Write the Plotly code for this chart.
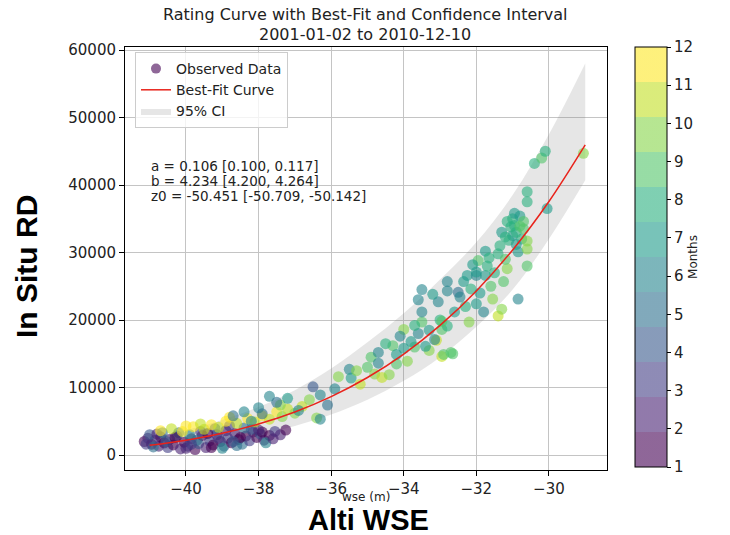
import plotly.graph_objects as go

# ---------------- data ----------------
# Observed data: water surface elevation (m), in-situ discharge, month (1-12)
obs_wse = [
    -41.15, -41.05, -40.95, -40.85, -40.75, -40.7, -40.6, -40.5, -40.45, -40.35,
    -40.25, -40.15, -40.05, -39.95, -39.85, -39.75, -39.65, -39.55, -39.45, -39.35,
    -39.25, -39.15, -39.05, -38.95, -38.85, -38.75, -38.65, -38.55, -38.45, -38.35,
    -38.25, -38.15, -38.05, -37.95, -37.85, -37.7, -37.55, -37.4, -37.25, -41.0,
    -40.2, -39.6, -39.2, -38.8, -38.4, -40.9, -39.9, -39.0, -38.6, -37.8,
    -41.1, -40.8, -40.55, -40.3, -40.0, -39.7, -39.4, -39.1, -38.9, -38.5,
    -38.2, -37.9, -37.6, -40.65, -39.85, -39.3, -38.7, -38.0,
    -40.7, -40.4, -40.1, -39.8, -39.5, -39.3, -39.1, -38.9, -38.6, -38.3,
    -38.1, -37.9, -37.7, -37.5, -37.35, -37.2, -37.0, -36.8, -36.6, -36.4,
    -40.0, -39.6, -38.8, -37.4,
    -38.7, -38.4, -38.0, -37.7, -37.5, -37.2, -36.9, -36.5, -36.3, -36.1,
    -35.9, -35.5, -35.45, -36.3, -37.9, -38.2,
    -35.8, -35.2, -35.0, -34.8, -34.6, -34.4, -34.2, -34.0, -33.9, -33.7,
    -33.5, -33.3, -33.1, -32.95, -32.7, -32.95, -34.9, -35.3, -34.3,
    -34.7, -34.7, -34.2, -34.1, -33.8, -33.6, -33.5, -33.3, -33.15, -33.4,
    -33.05, -33.0, -32.8, -34.5, -33.5, -33.2, -33.6, -34.0, -33.7,
    -32.8, -32.8, -32.5, -32.45, -32.35, -32.25, -32.15, -32.0, -32.0, -32.0,
    -31.95, -31.8, -31.75, -31.75, -31.7, -31.6, -31.55, -31.4, -31.4, -31.3,
    -31.3, -31.25, -31.15, -31.1, -31.0, -31.0, -30.95, -30.9, -30.85, -30.85,
    -30.8, -30.75, -30.7, -30.6, -30.6, -30.6, -30.6, -30.6, -30.4, -30.2,
    -30.1, -30.05, -29.05, -32.6, -32.2, -32.95, -32.65, -32.9, -31.5, -31.2,
    -32.3, -31.9, -31.05, -30.9, -31.15, -30.8, -31.2, -30.95, -31.35, -32.1,
    -31.65, -30.7,
]
obs_rd = [
    2000, 2500, 1600, 2200, 1300, 2700, 1800, 1100, 2300, 1500,
    2800, 900, 1900, 1300, 2400, 800, 1700, 2900, 1100, 2100,
    1500, 3000, 2000, 1300, 2500, 1800, 3200, 2300, 1600, 2800,
    2100, 3400, 2600, 3100, 2200, 2900, 3500, 3000, 3700, 3000,
    3300, 3500, 3900, 4300, 4000, 1200, 3000, 1000, 1400, 1800,
    1600, 3100, 2000, 2600, 1000, 2200, 3200, 2500, 3600, 2600,
    3800, 3400, 2400, 3300, 1600, 1100, 2000, 3700,
    3600, 3900, 3500, 4200, 3800, 4500, 4100, 5000, 4700, 5400,
    4900, 5800, 5300, 6400, 5700, 6800, 6200, 7200, 8200, 5500,
    4300, 4600, 5600, 7400,
    5800, 6400, 7000, 8700, 7800, 8400, 6600, 10100, 8900, 7400,
    9800, 12700, 11400, 5300, 6100, 5000,
    11600, 10500, 13000, 12000, 11500, 11900, 13500, 18600, 13900, 16000,
    19700, 15500, 17000, 14600, 15200, 18600, 14500, 12500, 16200,
    15200, 13600, 14900, 17600, 16800, 18000, 21200, 18500, 17100, 16100,
    22700, 20000, 19100, 16500, 24500, 23800, 23000, 15800, 19200,
    25700, 24300, 24100, 23400, 25700, 26600, 24600, 26600, 27100, 22400,
    28800, 21200, 30200, 26600, 28000, 25000, 23100, 29800, 20600, 33000,
    21600, 25700, 27600, 31800, 35000, 32500, 34000, 33000, 30100, 23100,
    35400, 32000, 33500, 31700, 30500, 28000, 37500, 39000, 43200, 44000,
    45000, 36500, 44700, 21200, 19700, 19800, 15000, 14900, 27000, 29000,
    22000, 24000, 33800, 31200, 34600, 33900, 32300, 35800, 31000, 28200,
    29200, 34600,
]
obs_month = [
    1, 2, 1, 3, 2, 1, 1, 3, 2, 1,
    4, 2, 1, 3, 2, 1, 4, 1, 2, 3,
    1, 2, 1, 4, 3, 1, 2, 1, 5, 1,
    3, 2, 1, 4, 2, 1, 3, 2, 1, 4,
    5, 3, 4, 3, 5, 5, 6, 6, 5, 6,
    3, 2, 4, 1, 2, 5, 1, 3, 2, 1,
    4, 1, 2, 5, 3, 1, 4, 2,
    12, 11, 12, 12, 11, 12, 11, 12, 11, 12,
    11, 12, 11, 12, 10, 11, 10, 11, 10, 10,
    12, 11, 12, 10,
    5, 6, 6, 6, 5, 7, 6, 4, 6, 5,
    6, 6, 7, 6, 5, 6,
    10, 11, 9, 10, 11, 10, 9, 10, 10, 9,
    9, 10, 11, 11, 9, 9, 9, 10, 9,
    6, 6, 7, 6, 7, 6, 6, 7, 6, 7,
    6, 8, 8, 8, 6, 7, 6, 7, 8,
    6, 6, 5, 6, 7, 7, 8, 6, 7, 7,
    9, 6, 7, 7, 8, 9, 10, 8, 11, 7,
    10, 9, 10, 8, 8, 7, 8, 8, 7, 6,
    7, 8, 9, 10, 10, 9, 8, 8, 8, 9,
    8, 7, 10, 7, 10, 9, 9, 9, 8, 9,
    8, 7, 8, 7, 8, 9, 8, 7, 8, 7,
    8, 9,
]

# Best-fit curve
fit_wse = [-41, -40, -39, -38, -37, -36, -35, -34, -33, -32, -31, -30, -29]
fit_rd = [1430, 2190, 3220, 4590, 6380, 8650, 11480, 14960, 19200, 24300, 30380, 37560, 45950]

# 95% confidence band
ci_upper = [2600, 3700, 5200, 7100, 9600, 12800, 16700, 21000, 26000, 31500, 38500, 47500, 58000]
ci_lower = [700, 1200, 2000, 3000, 4300, 6000, 8200, 11000, 14500, 19000, 24500, 32000, 40700]

param_lines = [
    "a = 0.106 [0.100, 0.117]",
    "b = 4.234 [4.200, 4.264]",
    "z0 = -50.451 [-50.709, -50.142]",
]
title_lines = ["Rating Curve with Best-Fit and Confidence Interval", "2001-01-02 to 2010-12-10"]
x_ticks = [-40, -38, -36, -34, -32, -30]
y_ticks = [0, 10000, 20000, 30000, 40000, 50000, 60000]
month_ticks = list(range(1, 13))

# ---------------- style ----------------
viridis12 = [
    (68, 1, 84), (72, 33, 115), (67, 62, 133), (56, 89, 140), (45, 112, 142), (37, 133, 142),
    (30, 155, 138), (42, 176, 127), (82, 197, 105), (134, 213, 73), (194, 223, 35), (253, 231, 37),
]
alpha = 0.6
cscale = []
for i, (r, g, b) in enumerate(viridis12):
    c = f"rgba({r},{g},{b},{alpha})"
    cscale.append([i / 12, c])
    cscale.append([(i + 1) / 12, c])

FONT = "DejaVu Sans"
W, H = 730, 535
L, R, T, B = 125, 123, 47, 65
PW, PH = W - L - R, H - T - B


def px_x(px):
    return (px - L) / PW


def px_y(py):
    return (H - B - py) / PH


fig = go.Figure()

# CI band
fig.add_trace(go.Scatter(x=fit_wse, y=ci_lower, mode="lines", line=dict(width=0, shape="spline"),
                         showlegend=False, hoverinfo="skip"))
fig.add_trace(go.Scatter(x=fit_wse, y=ci_upper, mode="lines", line=dict(width=0, shape="spline"),
                         fill="tonexty", fillcolor="rgba(128,128,128,0.2)", name="95% CI",
                         legendrank=3))

# observed data
fig.add_trace(go.Scatter(
    x=obs_wse, y=obs_rd, mode="markers", showlegend=False,
    marker=dict(size=11, color=obs_month, colorscale=cscale, cmin=1, cmax=12,
                line=dict(width=0),
                colorbar=dict(
                    x=px_x(635), xanchor="left", xpad=0, y=1, yanchor="top", ypad=0,
                    lenmode="pixels", len=420, thicknessmode="pixels", thickness=32,
                    outlinecolor="black", outlinewidth=1,
                    tickmode="array", tickvals=month_ticks, ticks="outside", ticklen=4,
                    tickcolor="black", tickfont=dict(family=FONT, size=15, color="#222"),
                    title=dict(text="Months", side="right", font=dict(family=FONT, size=12, color="#222")),
                ))))
# legend proxy for observed data
fig.add_trace(go.Scatter(x=[None], y=[None], mode="markers", name="Observed Data",
                         marker=dict(size=10, color="rgba(68,1,84,0.6)"), legendrank=1))

# best fit
fig.add_trace(go.Scatter(x=fit_wse, y=fit_rd, mode="lines", name="Best-Fit Curve",
                         line=dict(color="#e8231b", width=1.5, shape="spline"), legendrank=2))

annotations = []
for i, t in enumerate(title_lines):
    annotations.append(dict(text=t, x=px_x(365), y=px_y([15, 34][i]), xref="paper", yref="paper",
                            xanchor="center", yanchor="middle", showarrow=False,
                            font=dict(family=FONT, size=16, color="#222")))
for i, t in enumerate(param_lines):
    annotations.append(dict(text=t, x=px_x(149), y=px_y([166, 181, 196][i]), xref="paper", yref="paper",
                            xanchor="left", yanchor="middle", showarrow=False,
                            font=dict(family=FONT, size=13.5, color="#222")))
annotations.append(dict(text="wse (m)", x=px_x(366), y=px_y(497), xref="paper", yref="paper",
                        xanchor="center", yanchor="middle", showarrow=False,
                        font=dict(family=FONT, size=12, color="#222")))
annotations.append(dict(text="<b>Alti WSE</b>", x=px_x(368), y=px_y(520), xref="paper", yref="paper",
                        xanchor="center", yanchor="middle", showarrow=False,
                        font=dict(family="Liberation Sans", size=29, color="black")))
annotations.append(dict(text="<b>In Situ RD</b>", x=px_x(26), y=px_y(267), xref="paper", yref="paper",
                        xanchor="center", yanchor="middle", showarrow=False, textangle=-90,
                        font=dict(family="Liberation Sans", size=30, color="black")))

fig.update_layout(
    width=W, height=H, autosize=False,
    margin=dict(l=L, r=R, t=T, b=B, pad=0),
    paper_bgcolor="white", plot_bgcolor="white",
    font=dict(family=FONT, size=13, color="#222"),
    showlegend=True,
    legend=dict(x=px_x(135), y=px_y(52), xanchor="left", yanchor="top", traceorder="normal",
                bgcolor="rgba(255,255,255,0.8)", bordercolor="#cccccc", borderwidth=1,
                font=dict(family=FONT, size=14, color="#222"), tracegroupgap=0),
    annotations=annotations,
    xaxis=dict(range=[-41.68, -28.40], tickvals=x_ticks, ticks="outside", ticklen=5, tickcolor="black",
               showgrid=True, gridcolor="#c4c4c4", gridwidth=1, zeroline=False,
               showline=True, linecolor="black", linewidth=1, mirror=True,
               tickfont=dict(family=FONT, size=15, color="#222")),
    yaxis=dict(range=[-2222, 60444], tickvals=y_ticks, ticktext=[str(v) for v in y_ticks],
               ticks="outside", ticklen=5, tickcolor="black",
               showgrid=True, gridcolor="#c4c4c4", gridwidth=1, zeroline=False,
               showline=True, linecolor="black", linewidth=1, mirror=True,
               tickfont=dict(family=FONT, size=15, color="#222")),
)

fig.write_html("out.html")
